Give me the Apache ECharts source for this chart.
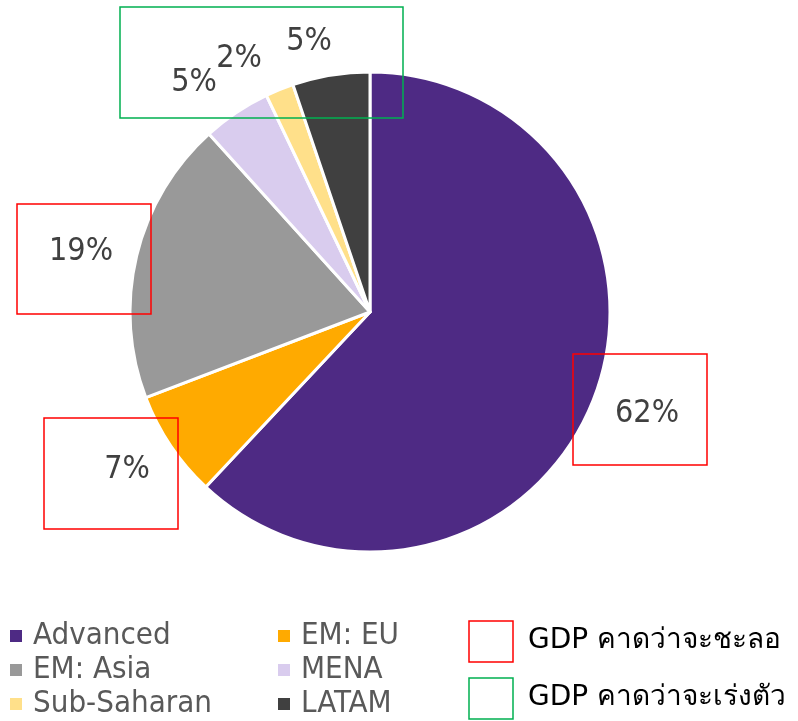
<!DOCTYPE html>
<html><head><meta charset="utf-8">
<script src="https://cdn.jsdelivr.net/npm/echarts@6/dist/echarts.min.js"></script>
<style>html,body{margin:0;padding:0;background:#fff}#c{width:798px;height:721px}</style>
</head><body><div id="c"></div>
<script>
const categories = ['Advanced', 'EM: EU', 'EM: Asia', 'MENA', 'Sub-Saharan', 'LATAM'];
const values = [62, 7.2, 19.1, 4.6, 1.9, 5.2];
const colors = ['#4E2A84', '#FFAA00', '#999999', '#D9CCEE', '#FFE08A', '#404040'];
const labelCenters = [[647, 414], [127, 470], [81, 252], [194, 83], [239, 59], [309, 42]];
const noteTexts = ['GDP คาดว่าจะชะลอ', 'GDP คาดว่าจะเร่งตัว'];

const chart = echarts.init(document.getElementById('c'));
const FONT = '"DejaVu Sans Condensed", "DejaVu Sans", sans-serif';
const total = values.reduce((a, b) => a + b, 0);

const legendCommon = {
  orient: 'vertical', itemWidth: 12, itemHeight: 12, itemGap: 0, icon: 'rect',
  textStyle: { fontFamily: FONT, fontSize: 31, color: '#595959', lineHeight: 34, padding: [0, 0, 0, 6] },
  itemStyle: { borderWidth: 0 }, padding: 0, selectedMode: false, height: 120
};

chart.setOption({
  animation: false,
  color: colors,
  legend: [
    Object.assign({}, legendCommon, { left: 10, top: 619, data: [categories[0], categories[2], categories[4]] }),
    Object.assign({}, legendCommon, { left: 278, top: 619, data: [categories[1], categories[3], categories[5]] })
  ],
  series: [{
    type: 'pie',
    center: [370, 312],
    radius: 240,
    startAngle: 90,
    clockwise: true,
    data: categories.map((n, i) => ({ name: n, value: values[i] })),
    itemStyle: { borderColor: '#fff', borderWidth: 3 },
    label: {
      show: true, position: 'outside',
      formatter: p => Math.round(p.value / total * 100) + '%',
      fontFamily: FONT, fontSize: 32, color: '#404040'
    },
    labelLine: { show: false },
    labelLayout: p => ({ x: labelCenters[p.dataIndex][0], y: labelCenters[p.dataIndex][1], align: 'center', verticalAlign: 'middle' }),
    emphasis: { disabled: true }
  }],
  graphic: [
    { type: 'rect', z: 100, shape: { x: 573, y: 354, width: 134, height: 111 }, style: { fill: 'none', stroke: '#FF0000', lineWidth: 1.5 } },
    { type: 'rect', z: 100, shape: { x: 44, y: 418, width: 134, height: 111 }, style: { fill: 'none', stroke: '#FF0000', lineWidth: 1.5 } },
    { type: 'rect', z: 100, shape: { x: 17, y: 204, width: 134, height: 110 }, style: { fill: 'none', stroke: '#FF0000', lineWidth: 1.5 } },
    { type: 'rect', z: 100, shape: { x: 120, y: 7, width: 283, height: 111 }, style: { fill: 'none', stroke: '#00B050', lineWidth: 1.5 } },
    { type: 'rect', z: 100, shape: { x: 469, y: 621, width: 44, height: 41 }, style: { fill: 'none', stroke: '#FF0000', lineWidth: 1.5 } },
    { type: 'rect', z: 100, shape: { x: 469, y: 678, width: 44, height: 41 }, style: { fill: 'none', stroke: '#00B050', lineWidth: 1.5 } },
    { type: 'text', z: 100, left: 528, top: 627, style: { text: noteTexts[0], font: '28px "DejaVu Sans", sans-serif', fill: '#000' } },
    { type: 'text', z: 100, left: 528, top: 684, style: { text: noteTexts[1], font: '28px "DejaVu Sans", sans-serif', fill: '#000' } }
  ]
});
</script></body></html>
